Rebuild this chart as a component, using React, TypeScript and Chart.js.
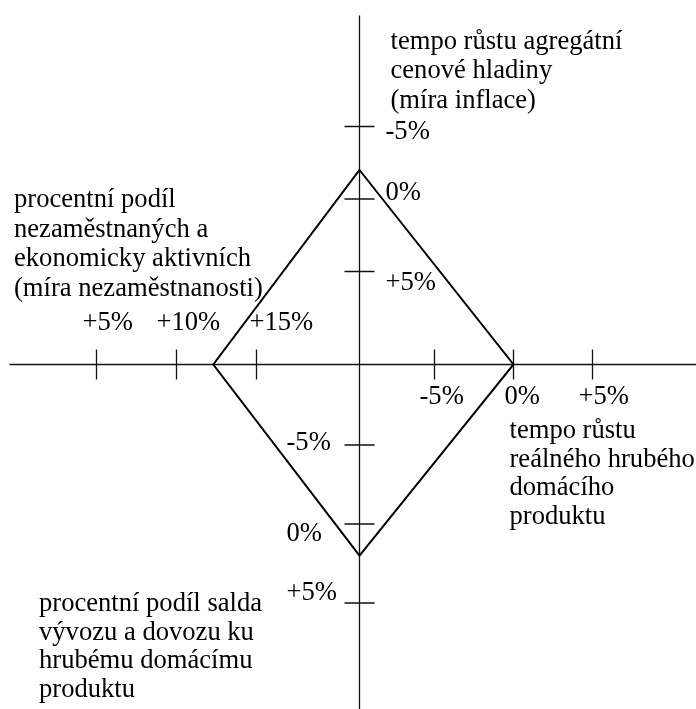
import React, { useEffect, useRef } from "react";
import { Chart, registerables } from "chart.js";

Chart.register(...registerables);

// ---- data (percent values) ----
const gdpTicks = [-5, 0, 5]; // right half of horizontal axis
const unemploymentTicks = [5, 10, 15]; // left half of horizontal axis
const inflationTicks = [-5, 0, 5]; // upper half of vertical axis
const tradeTicks = [-5, 0, 5]; // lower half of vertical axis

// corners of the quadrangle
const inflationValue = -2;
const gdpValue = 0;
const tradeValue = 2;
const unemploymentValue = 12.3;

const inflationTitle = ["tempo růstu agregátní", "cenové hladiny", "(míra inflace)"];
const unemploymentTitle = [
  "procentní podíl",
  "nezaměstnaných a",
  "ekonomicky aktivních",
  "(míra nezaměstnanosti)",
];
const gdpTitle = ["tempo růstu", "reálného hrubého", "domácího", "produktu"];
const tradeTitle = ["procentní podíl salda", "vývozu a dovozu ku", "hrubému domácímu", "produktu"];

const fmt = (v: number) => (v > 0 ? `+${v}%` : `${v}%`);

// ---- layout ----
const W = 696;
const H = 709;
const FONT = '26.6px "Liberation Serif", "Times New Roman", serif';
const TICK = 15;

// linear scale range so that value 0 sits at pixel p0 with k px per unit
const rangeX = (p0: number, k: number) => ({ min: -p0 / k, max: (W - p0) / k });
const rangeYDown = (p0: number, k: number) => ({ min: -p0 / k, max: (H - p0) / k });

const gdpLabelDx = [-15, -9, -14];
const unempLabelDx = [-14, -20, -7];
const inflLabelDy = [12, 1, 18];
const tradeLabelDy = [5, 17, -3];

const quadPlugin = {
  id: "quad",
  afterDraw(chart: any) {
    const { ctx, scales, chartArea } = chart;
    const X = scales.x;
    const Y = scales.y;
    const G = scales.xGdp;
    const U = scales.xUnemp;
    const I = scales.yInfl;
    const T = scales.yTrade;
    const ox = X.getPixelForValue(0);
    const oy = Y.getPixelForValue(0);

    ctx.save();
    ctx.strokeStyle = "#111";
    ctx.lineWidth = 1.3;
    ctx.beginPath();
    // axes
    ctx.moveTo(X.getPixelForValue(-350), oy);
    ctx.lineTo(chartArea.right, oy);
    ctx.moveTo(ox, Y.getPixelForValue(349));
    ctx.lineTo(ox, chartArea.bottom);
    // ticks
    gdpTicks.forEach((v) => {
      const p = G.getPixelForValue(v);
      ctx.moveTo(p, oy - TICK);
      ctx.lineTo(p, oy + TICK);
    });
    unemploymentTicks.forEach((v) => {
      const p = U.getPixelForValue(v);
      ctx.moveTo(p, oy - TICK);
      ctx.lineTo(p, oy + TICK);
    });
    inflationTicks.forEach((v) => {
      const p = I.getPixelForValue(v);
      ctx.moveTo(ox - TICK, p);
      ctx.lineTo(ox + TICK, p);
    });
    tradeTicks.forEach((v) => {
      const p = T.getPixelForValue(v);
      ctx.moveTo(ox - TICK, p);
      ctx.lineTo(ox + TICK, p);
    });
    ctx.stroke();

    // quadrangle
    ctx.strokeStyle = "#000";
    ctx.lineWidth = 2;
    ctx.lineJoin = "miter";
    ctx.beginPath();
    ctx.moveTo(ox, I.getPixelForValue(inflationValue));
    ctx.lineTo(G.getPixelForValue(gdpValue), oy);
    ctx.lineTo(ox, T.getPixelForValue(tradeValue));
    ctx.lineTo(U.getPixelForValue(unemploymentValue), oy);
    ctx.closePath();
    ctx.stroke();

    // tick labels
    ctx.fillStyle = "#000";
    ctx.font = FONT;
    ctx.textAlign = "left";
    ctx.textBaseline = "alphabetic";
    gdpTicks.forEach((v, i) => {
      ctx.fillText(fmt(v), G.getPixelForValue(v) + gdpLabelDx[i], oy + 39);
    });
    unemploymentTicks.forEach((v, i) => {
      ctx.fillText(fmt(v), U.getPixelForValue(v) + unempLabelDx[i], oy - 35);
    });
    inflationTicks.forEach((v, i) => {
      ctx.fillText(fmt(v), ox + 26, I.getPixelForValue(v) + inflLabelDy[i]);
    });
    tradeTicks.forEach((v, i) => {
      ctx.fillText(fmt(v), ox - 73, T.getPixelForValue(v) + tradeLabelDy[i]);
    });

    // axis titles
    const block = (lines: string[], x: number, y: number, lh: number) => {
      lines.forEach((t, i) => ctx.fillText(t, x, y + i * lh));
    };
    block(inflationTitle, ox + 31, 49, 29.3);
    block(unemploymentTitle, chartArea.left + 14, 207, 29.5);
    block(gdpTitle, ox + 150, 438, 28.7);
    block(tradeTitle, chartArea.left + 39, 611, 28.5);

    ctx.restore();
  },
};

export default function App() {
  const ref = useRef<HTMLCanvasElement>(null);
  useEffect(() => {
    document.body.style.margin = "0";
    const chart = new Chart(ref.current as HTMLCanvasElement, {
      type: "scatter",
      data: { datasets: [] },
      options: {
        animation: false,
        responsive: false,
        events: [],
        layout: { padding: 0 },
        plugins: { legend: { display: false }, tooltip: { enabled: false } },
        scales: {
          x: { type: "linear", axis: "x", display: false, ...rangeX(359.5, 1) },
          y: { type: "linear", axis: "y", display: false, min: -(H - 364.5), max: 364.5 },
          xGdp: { type: "linear", axis: "x", display: false, ...rangeX(513.5, 15.8) },
          xUnemp: { type: "linear", axis: "x", display: false, ...rangeX(16.5, 16) },
          yInfl: { type: "linear", axis: "y", display: false, reverse: true, ...rangeYDown(199, 14.5) },
          yTrade: { type: "linear", axis: "y", display: false, reverse: true, ...rangeYDown(524, 15.8) },
        },
      } as any,
      plugins: [quadPlugin],
    });
    return () => chart.destroy();
  }, []);
  return <canvas ref={ref} width={W} height={H} style={{ display: "block" }} />;
}
